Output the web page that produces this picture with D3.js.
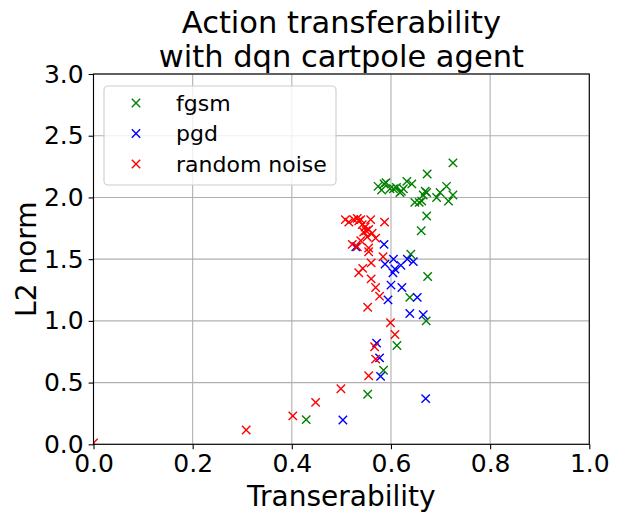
<!DOCTYPE html>
<html>
<head>
<meta charset="utf-8">
<script src="https://cdn.jsdelivr.net/npm/d3@7/dist/d3.min.js"></script>
<style>
  html, body { margin: 0; padding: 0; background: #fff; }
  svg { display: block; font-family: "DejaVu Sans", sans-serif; }
</style>
</head>
<body>
<svg id="chart" width="619" height="521"></svg>
<script>
// ---- data ----
const seriesNames = ["fgsm", "pgd", "random noise"];
const seriesColors = ["#008000", "#0000ff", "#ff0000"];

const fgsm = [
  [0.725,2.28],[0.673,2.19],[0.574,2.09],[0.586,2.11],[0.590,2.12],[0.632,2.13],[0.642,2.11],
  [0.611,2.08],[0.598,2.07],[0.605,2.07],[0.581,2.06],[0.621,2.05],[0.625,2.07],[0.618,2.04],
  [0.669,2.05],[0.672,2.04],[0.665,2.02],[0.712,2.09],[0.699,2.04],[0.725,2.02],[0.692,2.00],
  [0.716,1.97],[0.648,1.96],[0.662,1.97],[0.657,1.96],[0.672,1.85],[0.661,1.73],[0.640,1.54],
  [0.674,1.36],[0.638,1.19],[0.671,1.00],[0.612,0.80],[0.585,0.60],[0.553,0.405],[0.429,0.20]
];
const pgd = [
  [0.586,1.62],[0.529,1.60],[0.605,1.50],[0.588,1.46],[0.620,1.45],[0.633,1.50],[0.645,1.48],
  [0.608,1.42],[0.604,1.39],[0.600,1.29],[0.622,1.27],[0.594,1.17],[0.653,1.19],[0.638,1.06],
  [0.665,1.05],[0.571,0.82],[0.577,0.70],[0.579,0.55],[0.503,0.197],[0.670,0.37]
];
const randomNoise = [
  [0.508,1.82],[0.515,1.80],[0.525,1.82],[0.532,1.83],[0.535,1.81],[0.539,1.82],[0.559,1.82],
  [0.587,1.80],[0.542,1.78],[0.548,1.76],[0.555,1.74],[0.550,1.73],[0.545,1.72],[0.562,1.71],
  [0.552,1.68],[0.569,1.67],[0.539,1.65],[0.522,1.62],[0.532,1.60],[0.555,1.59],
  [0.555,1.56],[0.584,1.52],[0.560,1.47],[0.543,1.425],[0.535,1.39],[0.560,1.34],[0.569,1.27],
  [0.577,1.20],[0.553,1.11],[0.599,0.985],[0.608,0.89],[0.567,0.79],[0.569,0.69],[0.555,0.555],
  [0.499,0.45],[0.448,0.34],[0.402,0.23],[0.308,0.116],[0.0,0.01]
];
const xTicks = [0.0, 0.2, 0.4, 0.6, 0.8, 1.0];
const yTicks = [0.0, 0.5, 1.0, 1.5, 2.0, 2.5, 3.0];
const titleLines = ["Action transferability", "with dqn cartpole agent"];
const xLabel = "Transerability";
const yLabel = "L2 norm";

// ---- layout ----
const L = 93.5, R = 589.3, T = 74, B = 444.3;
const svg = d3.select("#chart");
const x = d3.scaleLinear().domain([0, 1]).range([L, R]);
const y = d3.scaleLinear().domain([0, 3]).range([B, T]);

svg.append("defs").append("clipPath").attr("id", "clip")
  .append("rect").attr("x", L).attr("y", T).attr("width", R - L).attr("height", B - T);

// grid
const grid = svg.append("g");
grid.selectAll("line.gx").data(xTicks).join("line")
  .attr("x1", d => x(d)).attr("x2", d => x(d)).attr("y1", T).attr("y2", B)
  .attr("stroke", "#b0b0b0").attr("stroke-width", 1.1);
grid.selectAll("line.gy").data(yTicks).join("line")
  .attr("y1", d => y(d)).attr("y2", d => y(d)).attr("x1", L).attr("x2", R)
  .attr("stroke", "#b0b0b0").attr("stroke-width", 1.1);

// points
const all = [fgsm, pgd, randomNoise];
const s = 4.2;
const pts = svg.append("g").attr("clip-path", "url(#clip)");
all.forEach((data, i) => {
  const g = pts.append("g").attr("stroke", seriesColors[i]).attr("stroke-width", 1.4).attr("fill", "none");
  g.selectAll("path").data(data).join("path")
    .attr("d", d => {
      const cx = x(d[0]), cy = y(d[1]);
      return `M${cx - s},${cy - s}L${cx + s},${cy + s}M${cx - s},${cy + s}L${cx + s},${cy - s}`;
    });
});

// axes
const xAxis = d3.axisBottom(x).tickValues(xTicks).tickFormat(d3.format(".1f")).tickSize(4.9).tickPadding(4.9);
const yAxis = d3.axisLeft(y).tickValues(yTicks).tickFormat(d3.format(".1f")).tickSize(4.9).tickPadding(4.9);
const gx = svg.append("g").attr("transform", `translate(0,${B})`).call(xAxis);
const gy = svg.append("g").attr("transform", `translate(${L},0)`).call(yAxis);
[gx, gy].forEach(g => {
  g.select(".domain").remove();
  g.selectAll("line").attr("stroke", "#000").attr("stroke-width", 1.1);
  g.selectAll("text").attr("font-family", "DejaVu Sans").attr("font-size", 25).attr("fill", "#000");
});

// frame
svg.append("rect").attr("x", L).attr("y", T).attr("width", R - L).attr("height", B - T)
  .attr("fill", "none").attr("stroke", "#000").attr("stroke-width", 1.1);

// legend
const lg = svg.append("g");
lg.append("rect").attr("x", 104).attr("y", 86).attr("width", 232).attr("height", 99)
  .attr("rx", 4).attr("fill", "#fff").attr("fill-opacity", 0.8)
  .attr("stroke", "#cccccc").attr("stroke-width", 1.1);
const rowsY = [103, 133.5, 164];
seriesNames.forEach((n, i) => {
  const cx = 136, cy = rowsY[i];
  lg.append("path").attr("d", `M${cx - s},${cy - s}L${cx + s},${cy + s}M${cx - s},${cy + s}L${cx + s},${cy - s}`)
    .attr("stroke", seriesColors[i]).attr("stroke-width", 1.4);
  lg.append("text").attr("x", 176).attr("y", cy).attr("dy", "0.35em")
    .attr("font-size", 22).attr("fill", "#000").text(n);
});

// title
svg.append("text").attr("text-anchor", "middle").attr("font-size", 30.5)
  .attr("x", (L + R) / 2).attr("y", 33).text(titleLines[0]);
svg.append("text").attr("text-anchor", "middle").attr("font-size", 30.5)
  .attr("x", (L + R) / 2).attr("y", 67).text(titleLines[1]);

// axis labels
svg.append("text").attr("text-anchor", "middle").attr("font-size", 28)
  .attr("x", (L + R) / 2).attr("y", 506).text(xLabel);
svg.append("text").attr("text-anchor", "middle").attr("font-size", 28)
  .attr("transform", `translate(36,${(T + B) / 2}) rotate(-90)`).text(yLabel);
</script>
</body>
</html>
